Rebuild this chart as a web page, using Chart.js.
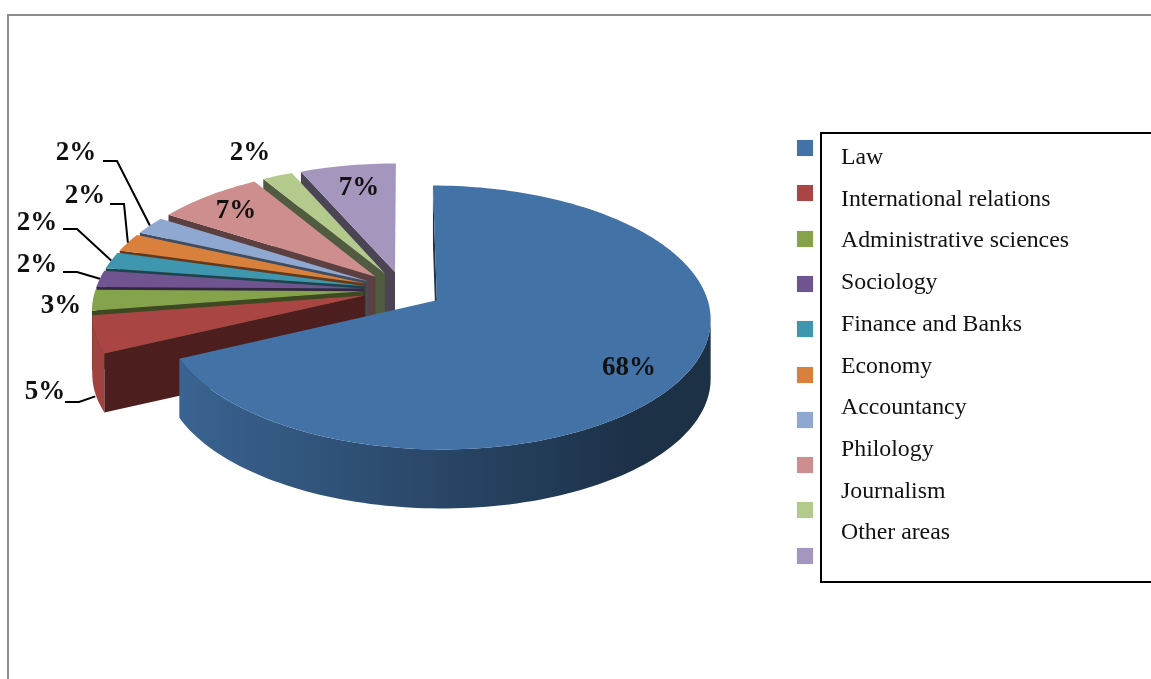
<!DOCTYPE html>
<html>
<head>
<meta charset="utf-8">
<title>Areas of study</title>
<script src="https://cdn.jsdelivr.net/npm/chart.js@4"></script>
<style>
    html, body { margin: 0; padding: 0; background: #fff; overflow: hidden; }
    #page { position: relative; width: 1151px; height: 679px; font-family: "Liberation Serif", serif; }
    #frame { position: absolute; left: 7px; top: 14px; right: -5px; bottom: -5px; border: 2px solid #8c8c8c; }
    #chart { position: absolute; left: 0; top: 0; }
    #legendBox { position: absolute; left: 820px; top: 132px; width: 340px; height: 447px; border: 2px solid #000; }
    .swatch { position: absolute; left: 797px; width: 16px; height: 16px; box-shadow: 0 0 1px #ccc; }
    .entry { position: absolute; left: 841px; font-size: 23.8px; line-height: 26px; color: #111; white-space: nowrap; }
</style>
</head>
<body>
<div id="page">
    <div id="frame"></div>
    <canvas id="chart" width="1151" height="679"></canvas>
    <div id="legendBox"></div>
</div>
<script>
const categories = ['Law', 'International relations', 'Administrative sciences', 'Sociology', 'Finance and Banks',
    'Economy', 'Accountancy', 'Philology', 'Journalism', 'Other areas'];
// the labels show them rounded
const shares = [68, 4.6, 2.6, 2.1, 2.1, 2.3, 2.3, 7.3, 2.1, 6.6];
const sliceColors = ['#4272a6', '#a94543', '#85a34a', '#6f548f', '#3e97ae', '#d9803c', '#8fa8d2', '#cd8e8d', '#b4ca8c', '#a596bd'];

// label centres, picked by eye
const labelSpots = [[629, 368], [45, 392], [61, 306], [37, 265], [37, 223], [85, 196], [76, 153], [236, 211], [250, 153], [359, 188]];
// where a leader line starts, next to its label
const leaderStarts = [null, [65, 402], null, [63, 272], [63, 229], [110, 204], [103, 161], null, null, null];
const leaderDrops = [0, 62, 0, 0, 0, 0, 0, 0, 0, 0];

// fake 3D view of the flat pie
const viewA = 268, viewB = 127, viewP = 0.13, pieDepth = 59;

function project(arc, X, Y) {
    const s = 1 / (1 - viewP * Y);
    return [arc.x + X * s * viewA, arc.y + Y * s * viewB];
}

function slicePoints(arc) {
    const R = arc.outerRadius;
    const mid = (arc.startAngle + arc.endAngle) / 2;
    const off = arc.options.offset / R;
    const ox = off * Math.cos(mid), oy = off * Math.sin(mid);
    const steps = Math.max(6, Math.round((arc.endAngle - arc.startAngle) * 40));
    const rim = [];
    let iMax = 0, iMin = 0;
    for (let i = 0; i <= steps; i++) {
        const a = arc.startAngle + (arc.endAngle - arc.startAngle) * i / steps;
        rim.push(project(arc, ox + Math.cos(a), oy + Math.sin(a)));
        if (rim[i][0] > rim[iMax][0]) iMax = i;
        if (rim[i][0] < rim[iMin][0]) iMin = i;
    }
    return {
        apex: project(arc, ox, oy),
        rim: rim,
        // the wall only shows between the silhouette points, and only on slices that face the viewer
        front: Math.sin(mid) > 0.15 ? rim.slice(iMax, iMin + 1) : [],
        midRim: project(arc, ox + Math.cos(mid), oy + Math.sin(mid))
    };
}

function tracePoly(ctx, pts) {
    ctx.beginPath();
    pts.forEach((p, i) => i ? ctx.lineTo(p[0], p[1]) : ctx.moveTo(p[0], p[1]));
    ctx.closePath();
}

function dropped(p) {
    return [p[0], p[1] + pieDepth];
}

function shade(hex, k) {
    const n = parseInt(hex.slice(1), 16);
    return 'rgb(' + [(n >> 16) & 255, (n >> 8) & 255, n & 255].map(v => Math.round(v * k)).join(',') + ')';
}

const pie3d = {
    id: 'pie3d',
    beforeDatasetsDraw(chart) {
        const ctx = chart.ctx;
        const arcs = chart.getDatasetMeta(0).data;
        // back to front: last slices sit at the rear, Law goes on top
        const order = arcs.map((a, i) => i).reverse();
        order.pop();
        order.push(0);
        ctx.save();
        order.forEach(i => {
            const color = sliceColors[i];
            const sp = slicePoints(arcs[i]);

            // cut face along the start edge
            ctx.fillStyle = shade(color, 0.45);
            tracePoly(ctx, [sp.apex, sp.rim[0], dropped(sp.rim[0]), dropped(sp.apex)]);
            ctx.fill();

            // outer wall, lit on the left and dark on the right
            if (sp.front.length > 1) {
                const wall = ctx.createLinearGradient(100, 0, 640, 0);
                wall.addColorStop(0, shade(color, 0.95));
                wall.addColorStop(1, shade(color, 0.42));
                ctx.fillStyle = wall;
                tracePoly(ctx, sp.front.concat(sp.front.slice().reverse().map(dropped)));
                ctx.fill();
            }

            ctx.fillStyle = color;
            tracePoly(ctx, [sp.apex].concat(sp.rim));
            ctx.fill();
        });
        ctx.restore();
        return false;
    },
    afterDraw(chart) {
        const ctx = chart.ctx;
        const arcs = chart.getDatasetMeta(0).data;
        ctx.save();
        ctx.strokeStyle = '#000';
        ctx.lineWidth = 2;
        leaderStarts.forEach((start, i) => {
            if (!start) return;
            const tip = slicePoints(arcs[i]).midRim;
            ctx.beginPath();
            ctx.moveTo(start[0], start[1]);
            ctx.lineTo(start[0] + 14, start[1]);
            ctx.lineTo(tip[0], tip[1] + leaderDrops[i]);
            ctx.stroke();
        });
        ctx.fillStyle = '#111';
        ctx.font = 'bold 27px "Liberation Serif", serif';
        ctx.textAlign = 'center';
        ctx.textBaseline = 'middle';
        shares.forEach((v, i) => ctx.fillText(Math.round(v) + '%', labelSpots[i][0], labelSpots[i][1]));
        ctx.restore();
    }
};

new Chart(document.getElementById('chart').getContext('2d'), {
    type: 'pie',
    data: {
        labels: categories,
        datasets: [{ data: shares, backgroundColor: sliceColors, borderWidth: 0, offset: 40 }]
    },
    options: {
        responsive: false,
        animation: false,
        layout: { padding: { left: 0, top: 0, right: 345, bottom: 99 } },
        plugins: { legend: { display: false }, tooltip: { enabled: false } }
    },
    plugins: [pie3d]
});

// the legend swatches and the text box do not line up in the original
const page = document.getElementById('page');
categories.forEach((name, i) => {
    const sw = document.createElement('div');
    sw.className = 'swatch';
    sw.style.top = (140 + i * 45.3) + 'px';
    sw.style.background = sliceColors[i];
    page.appendChild(sw);
    const txt = document.createElement('div');
    txt.className = 'entry';
    txt.style.top = (143 + i * 41.7) + 'px';
    txt.textContent = name;
    page.appendChild(txt);
});
</script>
</body>
</html>
